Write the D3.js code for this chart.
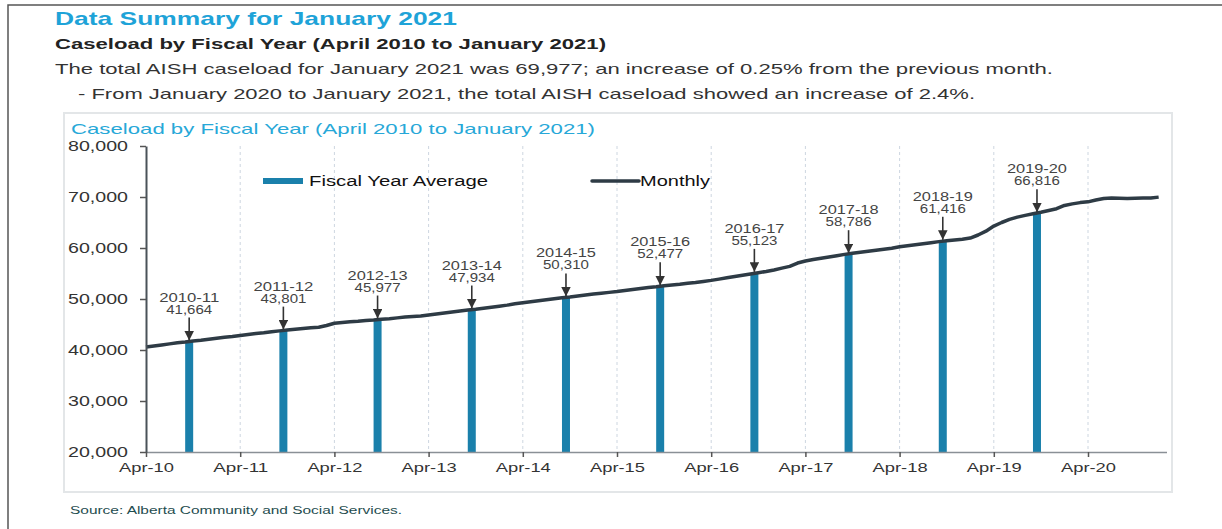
<!DOCTYPE html>
<html>
<head>
<meta charset="UTF-8">
<script src="https://cdn.jsdelivr.net/npm/d3@7/dist/d3.min.js"></script>
<style>
    body { margin: 0; background: #ffffff; }
    svg text { font-family: "Liberation Sans", Arial, sans-serif; }
</style>
</head>
<body>
<div id="container"></div>
<script>
// monthly AISH caseload, Apr-2010 .. Jan-2021
const monthly = [
    40600, 40800, 41000, 41200, 41400, 41550, 41750, 41900, 42100, 42300, 42500, 42650,
    42850, 43050, 43250, 43400, 43600, 43750, 43900, 44050, 44200, 44350, 44450, 44800,
    45250, 45400, 45550, 45650, 45800, 45900, 46050, 46150, 46300, 46450, 46550, 46650,
    46850, 47050, 47250, 47450, 47650, 47850, 48000, 48200, 48400, 48600, 48800, 49050,
    49250, 49450, 49650, 49850, 50050, 50250, 50400, 50600, 50800, 51000, 51150, 51300,
    51450, 51650, 51850, 52050, 52250, 52400, 52600, 52750, 52900, 53100, 53250, 53450,
    53650, 53900, 54150, 54400, 54650, 54900, 55150, 55400, 55700, 56050, 56400, 57050,
    57450, 57750, 58000, 58250, 58500, 58750, 58950, 59150, 59350, 59550, 59750, 59950,
    60250, 60450, 60650, 60850, 61050, 61250, 61400, 61550, 61700, 61950, 62550, 63300,
    64300, 65000, 65600, 66050, 66400, 66700, 67000, 67350, 67700, 68340, 68650, 68900,
    69050, 69400, 69700, 69800, 69750, 69700, 69750, 69800, 69803, 69977
];

// fiscal year averages
const fiscalYears = ["2010-11", "2011-12", "2012-13", "2013-14", "2014-15",
    "2015-16", "2016-17", "2017-18", "2018-19", "2019-20"];
const fiscalAvg = [41664, 43801, 45977, 47934, 50310, 52477, 55123, 58786, 61416, 66816];

const xTickLabels = ["Apr-10", "Apr-11", "Apr-12", "Apr-13", "Apr-14", "Apr-15",
    "Apr-16", "Apr-17", "Apr-18", "Apr-19", "Apr-20"];
const yTicks = [20000, 30000, 40000, 50000, 60000, 70000, 80000];

const width = 1222, height = 529;
const barColor = "#1a80ab";
const lineColor = "#2e3b45";

const svg = d3.select("#container")
    .append("svg")
    .attr("width", width)
    .attr("height", height);

// outer frame (top + left edge)
svg.append("path")
    .attr("d", "M8,529 L8,5 L1222,5")
    .attr("fill", "none")
    .attr("stroke", "#555")
    .attr("stroke-width", 1.5);

// header texts
const header = svg.append("g");
header.append("text")
    .attr("x", 55).attr("y", 25)
    .attr("fill", "#1ea3d8")
    .style("font-size", "19px").style("font-weight", "bold")
    .attr("textLength", 402).attr("lengthAdjust", "spacingAndGlyphs")
    .text("Data Summary for January 2021");
header.append("text")
    .attr("x", 55).attr("y", 49)
    .attr("fill", "#222")
    .style("font-size", "15px").style("font-weight", "bold")
    .attr("textLength", 551).attr("lengthAdjust", "spacingAndGlyphs")
    .text("Caseload by Fiscal Year (April 2010 to January 2021)");
header.append("text")
    .attr("x", 55).attr("y", 74)
    .attr("fill", "#333")
    .style("font-size", "15px")
    .attr("textLength", 998).attr("lengthAdjust", "spacingAndGlyphs")
    .text("The total AISH caseload for January 2021 was 69,977; an increase of 0.25% from the previous month.");
header.append("text")
    .attr("x", 78).attr("y", 99)
    .attr("fill", "#333")
    .style("font-size", "15px")
    .attr("textLength", 897).attr("lengthAdjust", "spacingAndGlyphs")
    .text("- From January 2020 to January 2021, the total AISH caseload showed an increase of 2.4%.");

// chart box
svg.append("rect")
    .attr("x", 64).attr("y", 113)
    .attr("width", 1108).attr("height", 379)
    .attr("fill", "#fff")
    .attr("stroke", "#e3e6e8")
    .attr("stroke-width", 2);

svg.append("text")
    .attr("x", 71).attr("y", 134)
    .attr("fill", "#27a8d8")
    .style("font-size", "15px")
    .attr("textLength", 524).attr("lengthAdjust", "spacingAndGlyphs")
    .text("Caseload by Fiscal Year (April 2010 to January 2021)");

// scales
const x0 = 146, monthW = 7.85;
const xScale = d3.scaleLinear()
    .domain([0, 130])
    .range([x0, x0 + 130 * monthW]);
const yScale = d3.scaleLinear()
    .domain([20000, 80000])
    .range([452, 146]);

const yearTicks = xTickLabels.map((d, i) => i * 12);

// dashed year gridlines
svg.append("g")
    .selectAll("line")
    .data(yearTicks.slice(1))
    .enter()
    .append("line")
    .attr("x1", d => xScale(d)).attr("x2", d => xScale(d))
    .attr("y1", yScale(80000)).attr("y2", yScale(20000))
    .attr("stroke", "#cdd6e0")
    .attr("stroke-dasharray", "3,3");

// bars (fiscal year average, drawn at middle of each fiscal year)
const barMid = i => xScale(5.5 + 12 * i);
svg.append("g")
    .selectAll("rect")
    .data(fiscalAvg)
    .enter()
    .append("rect")
    .attr("x", (d, i) => barMid(i) - 4)
    .attr("y", d => yScale(d))
    .attr("width", 8)
    .attr("height", d => yScale(20000) - yScale(d))
    .attr("fill", barColor);

// monthly line
const pathLine = d3.line()
    .x((d, i) => xScale(i))
    .y(d => yScale(d));
svg.append("path")
    .attr("d", pathLine(monthly))
    .attr("fill", "none")
    .attr("stroke", lineColor)
    .attr("stroke-width", 3.5)
    .attr("stroke-linejoin", "round");

// axes
const xAxis = d3.axisBottom(xScale)
    .tickValues(yearTicks)
    .tickFormat((d, i) => xTickLabels[i])
    .tickSize(5)
    .tickSizeOuter(0);
const gx = svg.append("g")
    .attr("transform", `translate(0,${yScale(20000)})`)
    .call(xAxis);
gx.select(".domain").attr("stroke", "#8a9096").attr("stroke-width", 1.5);
gx.selectAll(".tick line").attr("stroke", "#555").attr("stroke-width", 1.5);
gx.selectAll(".tick text")
    .attr("fill", "#333")
    .attr("dy", "0.9em")
    .style("font-size", "13px")
    .attr("textLength", 55).attr("lengthAdjust", "spacingAndGlyphs");

const yAxis = d3.axisLeft(yScale)
    .tickValues(yTicks)
    .tickFormat(d3.format(","))
    .tickSize(6)
    .tickSizeOuter(0);
const gy = svg.append("g")
    .attr("transform", `translate(${x0},0)`)
    .call(yAxis);
gy.select(".domain").attr("stroke", "#4a5259").attr("stroke-width", 2);
gy.selectAll(".tick line").attr("stroke", "#555").attr("stroke-width", 1.5);
gy.selectAll(".tick text")
    .attr("fill", "#333")
    .attr("x", -18)
    .style("font-size", "14px")
    .attr("textLength", 60).attr("lengthAdjust", "spacingAndGlyphs");

// arrow marker
svg.append("defs").append("marker")
    .attr("id", "arrow")
    .attr("viewBox", "0 0 10 10")
    .attr("refX", 10).attr("refY", 5)
    .attr("markerWidth", 6).attr("markerHeight", 6)
    .attr("markerUnits", "strokeWidth")
    .attr("orient", "auto")
    .append("path")
    .attr("d", "M0,0 L10,5 L0,10 z")
    .attr("fill", "#333");

// annotations
const notes = svg.append("g");
fiscalAvg.forEach((v, i) => {
    const cx = barMid(i), top = yScale(v);
    notes.append("line")
        .attr("x1", cx).attr("x2", cx)
        .attr("y1", top - 24).attr("y2", top - 1)
        .attr("stroke", "#333")
        .attr("stroke-width", 1.6)
        .attr("marker-end", "url(#arrow)");
    const t = notes.append("text")
        .attr("text-anchor", "middle")
        .attr("fill", "#444")
        .style("font-size", "12px");
    t.append("tspan").attr("x", cx).attr("y", top - 40)
        .attr("textLength", 60).attr("lengthAdjust", "spacingAndGlyphs")
        .text(fiscalYears[i]);
    t.append("tspan").attr("x", cx).attr("y", top - 28)
        .attr("textLength", 46).attr("lengthAdjust", "spacingAndGlyphs")
        .text(d3.format(",")(v));
});

// legend
const legend = svg.append("g");
legend.append("rect")
    .attr("x", 263).attr("y", 178)
    .attr("width", 40).attr("height", 6)
    .attr("fill", barColor);
legend.append("text")
    .attr("x", 309).attr("y", 186)
    .attr("fill", "#111")
    .style("font-size", "14px")
    .attr("textLength", 179).attr("lengthAdjust", "spacingAndGlyphs")
    .text("Fiscal Year Average");
legend.append("line")
    .attr("x1", 592).attr("x2", 639)
    .attr("y1", 181).attr("y2", 181)
    .attr("stroke", lineColor)
    .attr("stroke-width", 3.5)
    .attr("stroke-linecap", "round");
legend.append("text")
    .attr("x", 640).attr("y", 186)
    .attr("fill", "#111")
    .style("font-size", "14px")
    .attr("textLength", 70).attr("lengthAdjust", "spacingAndGlyphs")
    .text("Monthly");

// source
svg.append("text")
    .attr("x", 70).attr("y", 514)
    .attr("fill", "#1f4d4f")
    .style("font-size", "10px")
    .attr("textLength", 332).attr("lengthAdjust", "spacingAndGlyphs")
    .text("Source: Alberta Community and Social Services.");
</script>
</body>
</html>
